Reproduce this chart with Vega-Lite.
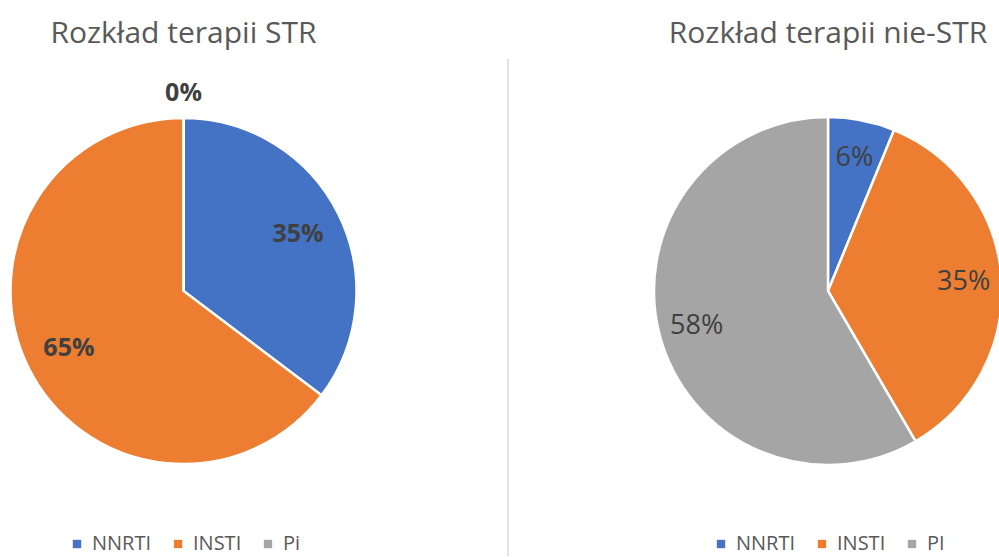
{
  "$schema": "https://vega.github.io/schema/vega-lite/v6.json",
  "background": "white",
  "padding": {"top": 19, "left": 0, "right": 0, "bottom": 0},
  "config": {
    "view": {"stroke": null},
    "font": "Open Sans",
    "title": {"fontSize": 30, "fontWeight": "normal", "color": "#595959", "font": "Open Sans", "offset": 10, "anchor": "middle"},
    "legend": {
      "orient": "bottom",
      "direction": "horizontal",
      "title": null,
      "symbolType": "square",
      "symbolSize": 70,
      "symbolStrokeWidth": 0,
      "labelFontSize": 20,
      "labelFont": "Open Sans",
      "labelColor": "#595959",
      "labelOffset": 5,
      "columnPadding": 16,
      "offset": 11,
      "layout": {"bottom": {"anchor": "middle"}}
    }
  },
  "datasets": {
    "str": [
      {"klasa": "NNRTI", "ord": 1, "udzial": 0.353},
      {"klasa": "INSTI", "ord": 2, "udzial": 0.647},
      {"klasa": "Pi", "ord": 3, "udzial": 0.0}
    ],
    "niestr": [
      {"klasa": "NNRTI", "ord": 1, "udzial": 0.062},
      {"klasa": "INSTI", "ord": 2, "udzial": 0.354},
      {"klasa": "PI", "ord": 3, "udzial": 0.584}
    ]
  },
  "spacing": 140,
  "hconcat": [
    {
      "data": {"name": "str"},
      "title": "Rozkład terapii STR",
      "width": 367,
      "height": 464,
      "encoding": {
        "theta": {"field": "udzial", "type": "quantitative", "stack": true},
        "order": {"field": "ord", "type": "quantitative"}
      },
      "layer": [
        {
          "mark": {"type": "arc", "outerRadius": 173, "stroke": "white", "strokeWidth": 2.5},
          "encoding": {
            "color": {
              "field": "klasa", "type": "nominal",
              "scale": {"domain": ["NNRTI", "INSTI", "Pi"], "range": ["#4472C4", "#ED7D31", "#A5A5A5"]},
              "legend": {}
            }
          }
        },
        {
          "transform": [{"filter": "datum.udzial > 0"}],
          "mark": {"type": "text", "radius": 128, "fontSize": 25, "fontWeight": "bold", "fill": "#404040", "font": "Open Sans"},
          "encoding": {"text": {"field": "udzial", "type": "quantitative", "format": ".0%"}}
        },
        {
          "transform": [{"filter": "datum.udzial == 0"}],
          "mark": {"type": "text", "radius": 198, "fontSize": 25, "fontWeight": "bold", "fill": "#404040", "font": "Open Sans"},
          "encoding": {"text": {"field": "udzial", "type": "quantitative", "format": ".0%"}}
        }
      ]
    },
    {
      "data": {"values": [{"d": 0}]},
      "width": 1,
      "height": 497,
      "mark": {"type": "rule", "color": "#dadada", "strokeWidth": 1.5},
      "encoding": {"x": {"field": "d", "type": "quantitative", "axis": null, "scale": {"domain": [0, 1]}}}
    },
    {
      "data": {"name": "niestr"},
      "title": "Rozkład terapii nie-STR",
      "width": 344,
      "height": 464,
      "encoding": {
        "theta": {"field": "udzial", "type": "quantitative", "stack": true},
        "order": {"field": "ord", "type": "quantitative"}
      },
      "layer": [
        {
          "mark": {"type": "arc", "outerRadius": 174, "stroke": "white", "strokeWidth": 2.5},
          "encoding": {
            "color": {
              "field": "klasa", "type": "nominal",
              "scale": {"domain": ["NNRTI", "INSTI", "PI"], "range": ["#4472C4", "#ED7D31", "#A5A5A5"]},
              "legend": {}
            }
          }
        },
        {
          "mark": {"type": "text", "radius": 136, "fontSize": 27, "fontWeight": "normal", "fill": "#404040", "font": "Open Sans"},
          "encoding": {"text": {"field": "udzial", "type": "quantitative", "format": ".0%"}}
        }
      ]
    }
  ],
  "resolve": {"scale": {"color": "independent", "theta": "independent"}}
}
